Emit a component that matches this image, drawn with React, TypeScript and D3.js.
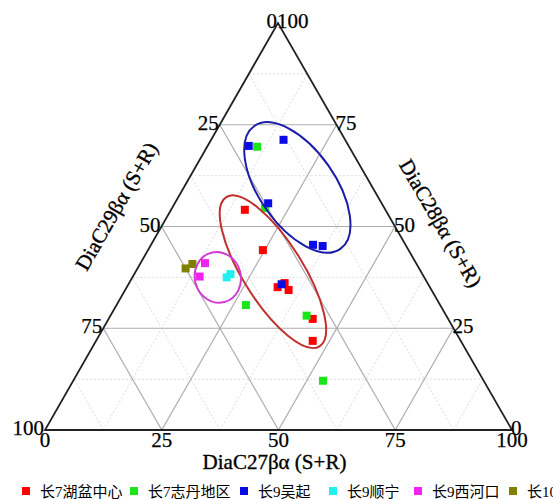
import React, { useEffect, useRef } from "react";
import * as d3 from "d3";

// series names (legend order)
const seriesNames = ["长7湖盆中心", "长7志丹地区", "长9吴起", "长9顺宁", "长9西河口", "长10"];

// each point: [DiaC27, DiaC28, DiaC29] in %
const huPenCenter = [
  [15.8, 54.1, 30.1],
  [24.6, 44.2, 31.2],
  [32.3, 35.1, 32.6],
  [33.3, 36.1, 30.6],
  [35.0, 34.4, 30.6],
  [43.7, 27.3, 29.0],
  [46.4, 21.9, 31.7],
];
const zhiDan = [
  [10.7, 69.6, 19.7],
  [19.9, 54.5, 25.6],
  [27.7, 30.7, 41.6],
  [42.0, 28.1, 29.9],
  [53.5, 12.1, 34.4],
];
const wuQi = [
  [8.8, 69.8, 21.4],
  [15.5, 71.3, 13.2],
  [20.0, 55.7, 24.3],
  [34.7, 45.5, 19.8],
  [36.9, 45.2, 17.9],
  [32.8, 35.8, 31.4],
];
const shunNing = [
  [20.2, 37.5, 42.3],
  [20.6, 38.3, 41.1],
];
const xiHeKou = [
  [13.8, 41.0, 45.2],
  [14.3, 37.7, 48.0],
];
const chang10 = [
  [10.3, 39.7, 50.0],
  [11.2, 40.8, 48.0],
];

const allSeries = [huPenCenter, zhiDan, wuQi, shunNing, xiHeKou, chang10];

const tickValues = [0, 25, 50, 75, 100];
const majorGrid = [25, 50, 75];
const minorGrid = [12.5, 37.5, 62.5, 87.5];

// group ellipses, centre given as [C27, C28]
const groupCenters = [
  [24.3, 59.6],
  [29.4, 38.9],
  [18.3, 37.5],
];

const colors = ["#ff0000", "#19e619", "#0a0ae6", "#22f0f0", "#f022f0", "#808000"];
const ellipseStyle = [
  { rx: 75, ry: 38, angle: 55, color: "#1c1ca8" },
  { rx: 88, ry: 30, angle: 58, color: "#c0302c" },
  { rx: 25.5, ry: 23, angle: 75, color: "#d23cd2" },
];
const legendX = [22, 130, 240, 329, 414, 509];

const W = 553;
const H = 499;
const serif = "'Liberation Serif', 'Times New Roman', serif";

export default function App() {
  const ref = useRef<SVGSVGElement | null>(null);

  useEffect(() => {
    const svg = d3.select(ref.current);
    svg.selectAll("*").remove();

    const left = 45,
      right = 512,
      bottom = 430,
      top = 23;
    const topX = 278;

    const x27 = d3.scaleLinear().domain([0, 100]).range([left, right]);
    const shift28 = d3.scaleLinear().domain([0, 100]).range([0, topX - left]);
    const y28 = d3.scaleLinear().domain([0, 100]).range([bottom, top]);

    const pos = (c27: number, c28: number): [number, number] => [
      x27(c27) + shift28(c28),
      y28(c28),
    ];

    const line = d3.line();
    const grid = svg.append("g");

    const drawGrid = (vals: number[], stroke: string, dash: string | null, sw: number) => {
      vals.forEach((v) => {
        // constant C28, constant C27, constant C29
        const segs: [number, number][][] = [
          [pos(0, v), pos(100 - v, v)],
          [pos(v, 0), pos(v, 100 - v)],
          [pos(100 - v, 0), pos(0, 100 - v)],
        ];
        segs.forEach((s) => {
          grid
            .append("path")
            .attr("d", line(s))
            .attr("stroke", stroke)
            .attr("stroke-width", sw)
            .attr("stroke-dasharray", dash)
            .attr("fill", "none");
        });
      });
    };
    drawGrid(minorGrid, "#dcdcdc", "2,2", 1);
    drawGrid(majorGrid, "#acacac", null, 1.2);

    svg
      .append("path")
      .attr("d", line([pos(0, 0), pos(100, 0), pos(0, 100)]) + "Z")
      .attr("fill", "none")
      .attr("stroke", "#222")
      .attr("stroke-width", 1.8);

    // tick labels
    const tickG = svg
      .append("g")
      .style("font-family", serif)
      .style("font-size", "21px")
      .attr("fill", "#000")
      .attr("stroke", "#000")
      .attr("stroke-width", 0.25);

    tickValues.forEach((v) => {
      const [bx, by] = pos(v, 0);
      tickG.append("text").attr("x", bx).attr("y", by + 17).attr("text-anchor", "middle").text(v);
      const [lx, ly] = pos(0, 100 - v);
      tickG.append("text").attr("x", lx - 1).attr("y", ly + 5).attr("text-anchor", "end").text(v);
      const [rx, ry] = pos(100 - v, v);
      tickG.append("text").attr("x", rx - 1).attr("y", ry + 5).attr("text-anchor", "start").text(v);
    });

    // axis titles
    const titleG = svg
      .append("g")
      .style("font-family", serif)
      .style("font-size", "21px")
      .attr("fill", "#000")
      .attr("stroke", "#000")
      .attr("stroke-width", 0.35);

    titleG
      .append("text")
      .attr("x", (left + right) / 2 - 4)
      .attr("y", bottom + 39)
      .attr("text-anchor", "middle")
      .text("DiaC27βα (S+R)");

    const [lmx, lmy] = pos(0, 50);
    const lc = [lmx - 0.866 * 49 + 0.5 * -5, lmy - 0.5 * 49 - 0.866 * -5];
    titleG
      .append("text")
      .attr("transform", `translate(${lc[0]},${lc[1]}) rotate(-60)`)
      .attr("text-anchor", "middle")
      .attr("dominant-baseline", "central")
      .text("DiaC29βα (S+R)");

    const [rmx, rmy] = pos(50, 50);
    const rc = [rmx + 0.866 * 41 + 0.5 * 20, rmy - 0.5 * 41 + 0.866 * 20];
    titleG
      .append("text")
      .attr("transform", `translate(${rc[0]},${rc[1]}) rotate(60)`)
      .attr("text-anchor", "middle")
      .attr("dominant-baseline", "central")
      .text("DiaC28βα (S+R)");

    // points
    const ms = 8;
    allSeries.forEach((pts, i) => {
      svg
        .append("g")
        .selectAll("rect")
        .data(pts)
        .enter()
        .append("rect")
        .attr("x", (d) => pos(d[0], d[1])[0] - ms / 2)
        .attr("y", (d) => pos(d[0], d[1])[1] - ms / 2)
        .attr("width", ms)
        .attr("height", ms)
        .attr("fill", colors[i]);
    });

    // ellipses
    groupCenters.forEach((c, i) => {
      const [cx, cy] = pos(c[0], c[1]);
      const st = ellipseStyle[i];
      svg
        .append("ellipse")
        .attr("transform", `translate(${cx},${cy}) rotate(${st.angle})`)
        .attr("rx", st.rx)
        .attr("ry", st.ry)
        .attr("fill", "none")
        .attr("stroke", st.color)
        .attr("stroke-width", 2);
    });

    // legend
    const lg = svg.append("g").attr("transform", "translate(0,491)");
    seriesNames.forEach((name, i) => {
      lg.append("rect")
        .attr("x", legendX[i])
        .attr("y", -4)
        .attr("width", 8)
        .attr("height", 8)
        .attr("fill", colors[i]);
      lg.append("text")
        .attr("x", legendX[i] + 18)
        .attr("y", 5.5)
        .style("font-family", "'Liberation Serif', 'Noto Sans CJK SC', serif")
        .style("font-size", "15px")
        .text(name);
    });
  }, []);

  return (
    <svg
      ref={ref}
      width={W}
      height={H}
      style={{ position: "absolute", left: 0, top: 0, background: "#fff" }}
    />
  );
}
